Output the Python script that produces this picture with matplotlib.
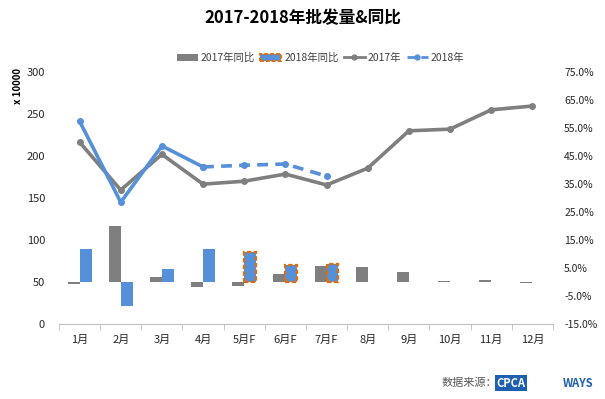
import matplotlib.pyplot as plt
import numpy as np
from matplotlib.patches import Patch
from matplotlib.lines import Line2D

plt.rcParams['font.family'] = ['Noto Sans CJK SC', 'DejaVu Sans']

months = ["1月", "2月", "3月", "4月", "5月F", "6月F", "7月F", "8月", "9月", "10月", "11月", "12月"]
sales_2017 = [216.5, 159.5, 202, 166.5, 170, 178.5, 165.5, 185.5, 230, 232, 255, 259.5]
sales_2018 = [241.5, 145, 212, 187, 189, 190.5, 176]
yoy_2017 = [-0.8, 20.1, 1.9, -1.8, -1.5, 3.0, 5.7, 5.2, 3.5, 0.3, 0.6, -0.2]
yoy_2018 = [11.7, -8.6, 4.8, 11.9, 10.6, 6.0, 6.3]
forecast_start = 4  # 5月F onward are forecasts

gray = "#7F7F7F"
blue = "#5590D8"
orange = "#E36C0A"

fig = plt.figure(figsize=(6.05, 3.99), dpi=100)
ax = fig.add_axes([0.0975, 0.188, 0.8165, 0.6315])
ax2 = ax.twinx()
ax.set_zorder(ax2.get_zorder() + 1)
ax.patch.set_visible(False)

x = np.arange(len(months))
w = 0.29
ax2.bar(x - w / 2, yoy_2017, w, color=gray, zorder=2)
x18 = np.arange(len(yoy_2018))
for i, v in zip(x18, yoy_2018):
    if i >= forecast_start:
        ax2.bar(i + w / 2, v, w, color=blue, edgecolor=orange, linestyle=(0, (2, 1)),
                linewidth=1.6, zorder=2)
    else:
        ax2.bar(i + w / 2, v, w, color=blue, zorder=2)

ax.plot(x, sales_2017, color=gray, lw=2.6, marker="o", ms=4)
ax.plot(x18[:forecast_start], sales_2018[:forecast_start], color=blue, lw=2.6,
        marker="o", ms=4)
ax.plot(x18[forecast_start - 1:], sales_2018[forecast_start - 1:], color=blue, lw=2.6,
        ls=(0, (3, 2)), marker="o", ms=4)

ax.set_xlim(-0.5, len(months) - 0.5)
ax.set_ylim(0, 300)
ax.set_yticks(range(0, 301, 50))
ax2.set_ylim(-15, 75)
ax2.set_yticks(np.arange(-15, 76, 10))
ax2.set_yticklabels([f"{v:.1f}%" for v in np.arange(-15, 76, 10)])

ax.set_xticks(x)
ax.set_xticklabels(months)
ax.set_xticks(np.arange(-0.5, len(months), 1), minor=True)
ax.tick_params(axis="x", which="major", length=0, pad=8, labelsize=8, labelcolor="#262626")
ax.tick_params(axis="x", which="minor", length=4, color="#BFBFBF", direction="out")
ax.tick_params(axis="y", length=0, labelsize=8, pad=10, labelcolor="#262626")
ax2.tick_params(axis="y", length=0, labelsize=7.5, pad=8, labelcolor="#262626")

for a in (ax, ax2):
    for s in ("top", "left", "right"):
        a.spines[s].set_visible(False)
    a.spines["bottom"].set_color("#BFBFBF")
ax2.spines["bottom"].set_visible(False)

fig.text(0.5, 0.955, "2017-2018年批发量&同比", ha="center", va="center",
         fontsize=12, fontweight="bold")
fig.text(0.03, 0.785, "x 10000", rotation=90, ha="center", va="center",
         fontsize=7, fontweight="bold")

handles = [
    Patch(facecolor=gray, label="2017年同比"),
    Patch(facecolor=blue, edgecolor=orange, linestyle=(0, (2, 1)), linewidth=1.4,
          label="2018年同比"),
    Line2D([], [], color=gray, lw=2, marker="o", ms=3.5, label="2017年"),
    Line2D([], [], color=blue, lw=2, ls=(0, (3, 2)), marker="o", ms=3.5, label="2018年"),
]
fig.legend(handles=handles, loc="center", bbox_to_anchor=(0.53, 0.855), ncol=4,
           frameon=False, fontsize=7.5, handlelength=2.0, handletextpad=0.3,
           columnspacing=0.5, labelcolor="#404040")

fig.text(0.73, 0.04, "数据来源：", ha="left", va="center", fontsize=8, color="#595959")
fig.text(0.845, 0.04, "CPCA", ha="center", va="center", fontsize=8, fontweight="bold",
         color="white", style="italic",
         bbox=dict(boxstyle="square,pad=0.15", fc="#1F5FB0", ec="none"))
fig.text(0.955, 0.04, "WAYS", ha="center", va="center", fontsize=8, fontweight="bold",
         color="#1F5FB0", style="italic")

fig.savefig("out.png", dpi=100)
